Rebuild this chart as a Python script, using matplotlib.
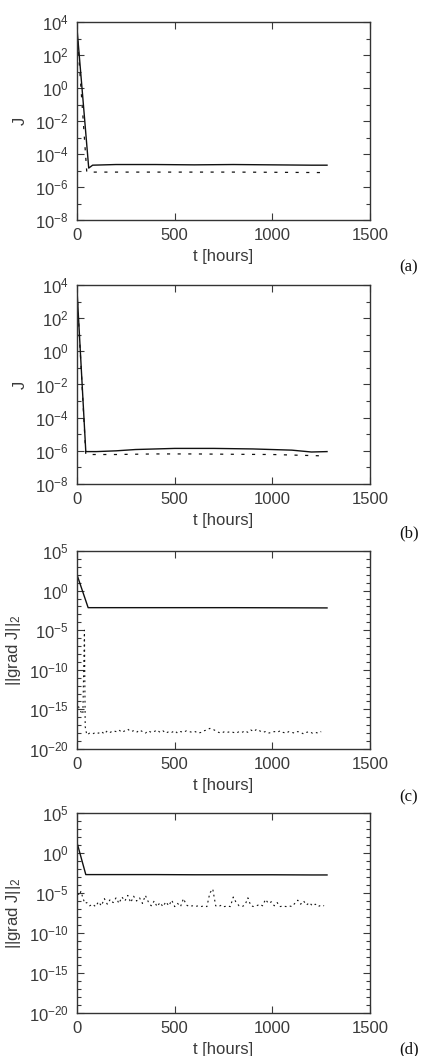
import numpy as np
import matplotlib
matplotlib.use("Agg")
import matplotlib.pyplot as plt
from matplotlib.ticker import FixedLocator, LogFormatterSciNotation, NullFormatter

plt.rcParams['font.family'] = ['Liberation Sans', 'DejaVu Sans']
plt.rcParams['mathtext.fontset'] = 'custom'
plt.rcParams['mathtext.rm'] = 'Liberation Sans'
plt.rcParams['mathtext.it'] = 'Liberation Sans:italic'

# ---------------- data ----------------
# panel (a)
t_a_solid = [0, 60, 80, 200, 400, 600, 800, 1000, 1200, 1280]
J_a_solid = [4e3, 1.4e-5, 2.1e-5, 2.3e-5, 2.3e-5, 2.2e-5, 2.3e-5, 2.2e-5, 2.1e-5, 2.1e-5]
t_a_dash = [0, 50, 200, 400, 600, 800, 1000, 1250]
J_a_dash = [3e3, 8e-6, 8e-6, 8e-6, 8e-6, 8e-6, 7.8e-6, 7.5e-6]

# panel (b)
t_b_solid = [0, 45, 100, 200, 300, 500, 700, 900, 1100, 1200, 1280]
J_b_solid = [5e3, 9e-7, 9e-7, 1.0e-6, 1.2e-6, 1.4e-6, 1.4e-6, 1.3e-6, 1.1e-6, 8.5e-7, 9e-7]
t_b_dash = [0, 45, 200, 400, 600, 800, 1000, 1250]
J_b_dash = [4e3, 6e-7, 6e-7, 6.5e-7, 6.5e-7, 6.2e-7, 6e-7, 5e-7]

# panel (c)
t_c_solid = [0, 57, 200, 400, 600, 800, 1000, 1200, 1280]
G_c_solid = [1e2, 7e-3, 7e-3, 7e-3, 7e-3, 7e-3, 6.8e-3, 6.6e-3, 6.5e-3]
t_c_dash_head = [0, 10, 20, 30, 38, 42]
log_c_dash_head = [-14.0, -14.8, -15.3, -15.6, -5.0, -17.2]
t_grid = [50, 65, 80, 95, 110, 125, 140, 155, 170, 185,
          200, 215, 230, 245, 260, 275, 290, 305, 320, 335,
          350, 365, 380, 395, 410, 425, 440, 455, 470, 485,
          500, 515, 530, 545, 560, 575, 590, 605, 620, 635,
          650, 665, 680, 695, 710, 725, 740, 755, 770, 785,
          800, 815, 830, 845, 860, 875, 890, 905, 920, 935,
          950, 965, 980, 995, 1010, 1025, 1040, 1055, 1070, 1085,
          1100, 1115, 1130, 1145, 1160, 1175, 1190, 1205, 1220, 1235,
          1250, 1265]
log_c_dash = [-18.2, -18.0, -18.1, -17.9, -18.0, -17.8, -18.1, -17.7, -17.9, -17.7,
              -17.8, -17.6, -17.9, -17.7, -17.5, -17.8, -17.7, -17.9, -17.6, -17.8,
              -18.0, -17.7, -17.9, -17.8, -17.6, -17.9, -17.7, -18.0, -17.8, -17.9,
              -17.7, -18.0, -17.8, -17.9, -17.7, -17.8, -17.9, -17.8, -18.0, -17.9,
              -17.7, -17.6, -17.4, -17.5, -17.7, -17.9, -18.0, -17.8, -17.9, -17.8,
              -17.9, -18.0, -17.8, -17.9, -17.7, -17.9, -17.6, -17.8, -17.5, -17.7,
              -17.9, -17.8, -18.0, -17.9, -17.8, -17.9, -17.7, -17.9, -18.0, -17.8,
              -17.9, -18.0, -17.8, -17.9, -18.1, -17.9, -17.8, -18.0, -17.9, -18.0,
              -17.8]

# panel (d)
t_d_solid = [0, 45, 200, 400, 600, 800, 1000, 1200, 1280]
G_d_solid = [2e1, 2.0e-3, 2.0e-3, 2.0e-3, 1.9e-3, 1.9e-3, 1.9e-3, 1.8e-3, 1.8e-3]
t_d_dash_head = [0, 10, 20, 30, 40]
log_d_dash_head = [-4.4, -5.3, -4.8, -5.6, -6.3]
log_d_dash = [-6.2, -6.6, -6.4, -6.7, -6.1, -6.6, -5.7, -6.4, -5.8, -6.2,
              -5.6, -6.3, -5.5, -6.0, -5.3, -6.2, -5.4, -6.0, -5.6, -6.3,
              -5.3, -6.1, -6.6, -6.0, -6.7, -6.2, -6.7, -6.1, -6.6, -5.9,
              -6.7, -6.3, -6.7, -5.7, -6.5, -6.7, -6.6, -6.7, -6.6, -6.7,
              -6.6, -6.7, -5.0, -4.5, -6.6, -6.7, -6.5, -6.7, -6.6, -6.7,
              -5.5, -6.2, -6.6, -6.7, -6.5, -5.6, -6.6, -6.7, -6.6, -6.4,
              -6.6, -5.8, -6.3, -6.1, -6.6, -6.2, -6.7, -6.6, -6.7, -6.6,
              -6.7, -6.3, -5.9, -6.4, -6.0, -6.5, -6.2, -6.6, -6.4, -6.7,
              -6.5, -6.6]

x_ticks = [0, 500, 1000, 1500]
panel_labels = ['(a)', '(b)', '(c)', '(d)']

# ---------------- figure ----------------
W, H = 421, 1056
fig = plt.figure(figsize=(W / 100, H / 100), dpi=100)

txt_col = '#3a3a3a'
line_col = '#111111'

def px_axes(top, bottom, left=77, right=370):
    return fig.add_axes([left / W, 1 - bottom / H, (right - left) / W, (bottom - top) / H])

boxes = [(22, 220), (285, 484), (551, 749), (813, 1013)]
axes = [px_axes(*b) for b in boxes]

dash_style = (0, (2.5, 6))
jag_style = (0, (1.6, 3.0))

ax = axes[0]
ax.plot(t_a_solid, J_a_solid, color=line_col, lw=1.0)
ax.plot(t_a_dash, J_a_dash, color=line_col, lw=0.9, linestyle=dash_style)
ax = axes[1]
ax.plot(t_b_solid, J_b_solid, color=line_col, lw=1.0)
ax.plot(t_b_dash, J_b_dash, color=line_col, lw=0.9, linestyle=dash_style)

ax = axes[2]
ax.plot(t_c_solid, G_c_solid, color=line_col, lw=1.0)
tc = t_c_dash_head + t_grid[:len(log_c_dash)]
vc = 10.0 ** np.array(log_c_dash_head + log_c_dash)
ax.plot(tc, vc, color=line_col, lw=0.8, linestyle=jag_style)

ax = axes[3]
ax.plot(t_d_solid, G_d_solid, color=line_col, lw=1.0)
td = t_d_dash_head + t_grid[:len(log_d_dash)]
vd = 10.0 ** np.array(log_d_dash_head + log_d_dash)
ax.plot(td, vd, color=line_col, lw=0.8, linestyle=jag_style)

for i, ax in enumerate(axes):
    ax.set_yscale('log')
    ax.set_xlim(0, 1500)
    ax.set_xticks(x_ticks)
    ax.set_xticklabels([str(v) for v in x_ticks])
    if i < 2:
        ax.set_ylim(1e-8, 1e4)
        ax.yaxis.set_major_locator(FixedLocator([10.0 ** e for e in range(-8, 5, 2)]))
        ax.yaxis.set_minor_locator(FixedLocator([10.0 ** e for e in range(-7, 4, 2)]))
        ax.set_ylabel('J', color=txt_col, fontsize=12, labelpad=5)
    else:
        ax.set_ylim(1e-20, 1e5)
        ax.yaxis.set_major_locator(FixedLocator([10.0 ** e for e in range(-20, 6, 5)]))
        ax.yaxis.set_minor_locator(FixedLocator([10.0 ** e for e in range(-20, 6)]))
        ax.set_ylabel(r'||grad J||$_2$', color=txt_col, fontsize=12, labelpad=4)
    ax.yaxis.set_major_formatter(LogFormatterSciNotation())
    ax.yaxis.set_minor_formatter(NullFormatter())
    ax.tick_params(which='both', direction='in', top=True, right=True,
                   colors=txt_col, labelcolor=txt_col, labelsize=12, width=0.8)
    ax.tick_params(which='major', length=5, pad=6)
    ax.tick_params(which='minor', length=3)
    ax.tick_params(axis='x', which='minor', bottom=False, top=False)
    for s in ax.spines.values():
        s.set_color('#333333')
        s.set_linewidth(1.0)
    ax.set_xlabel('t [hours]', color=txt_col, fontsize=12, labelpad=4)

label_y = [267, 533, 797, 1049]
for lab, y in zip(panel_labels, label_y):
    fig.text(409 / W, 1 - y / H, lab, ha='center', va='center',
             fontsize=12, family=['Liberation Serif', 'DejaVu Serif'], color='#111111')

fig.savefig('out.png', dpi=100)
